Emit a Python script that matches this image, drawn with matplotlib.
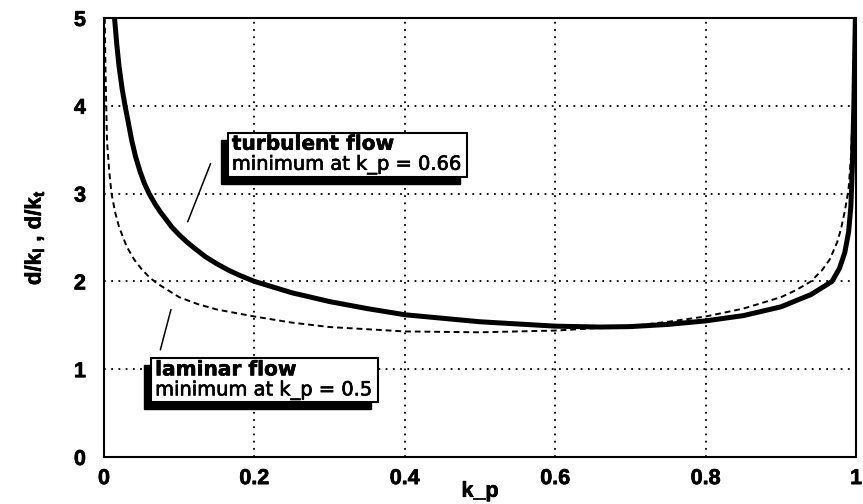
import matplotlib
matplotlib.use("Agg")
import matplotlib.pyplot as plt
import matplotlib.patheffects as pe
from matplotlib.patches import Rectangle


# values
k_turb = [0.014, 0.017, 0.02, 0.024, 0.028, 0.033, 0.037, 0.042, 0.048, 0.054,
          0.06, 0.068, 0.075, 0.083, 0.09, 0.1, 0.11, 0.12, 0.135, 0.15,
          0.165, 0.18, 0.2, 0.25, 0.3, 0.35, 0.4, 0.5, 0.6, 0.66, 0.7, 0.75,
          0.8, 0.85, 0.9, 0.92, 0.94, 0.955, 0.968, 0.978, 0.985, 0.99,
          0.993, 0.995, 0.997, 0.999]
d_turb = [5.0, 4.7, 4.45, 4.2, 4.0, 3.78, 3.6, 3.42, 3.25, 3.11,
          3.0, 2.88, 2.79, 2.7, 2.62, 2.53, 2.45, 2.38, 2.28, 2.2,
          2.13, 2.07, 2.0, 1.87, 1.77, 1.69, 1.62, 1.54, 1.49, 1.48, 1.485, 1.51,
          1.55, 1.61, 1.71, 1.78, 1.85, 1.93, 2.0, 2.15, 2.33, 2.56,
          2.85, 3.3, 4.0, 5.0]

k_lam = [0.001, 0.002, 0.004, 0.007, 0.01, 0.015, 0.02, 0.03, 0.04, 0.05,
         0.06, 0.07, 0.085, 0.1, 0.125, 0.15, 0.2, 0.25, 0.3, 0.4, 0.5, 0.6,
         0.7, 0.75, 0.8, 0.85, 0.9, 0.92, 0.94, 0.955, 0.965, 0.975, 0.98,
         0.985, 0.99, 0.993, 0.996, 0.998, 0.999]
d_lam = [5.0, 4.4, 3.6, 3.25, 3.0, 2.78, 2.62, 2.4, 2.25, 2.14,
         2.05, 1.98, 1.9, 1.82, 1.74, 1.68, 1.6, 1.53, 1.48, 1.43, 1.42, 1.44,
         1.49, 1.54, 1.6, 1.69, 1.82, 1.9, 2.0, 2.13, 2.25, 2.45, 2.6,
         2.8, 3.05, 3.4, 4.0, 4.5, 5.0]

x_ticks = [0, 0.2, 0.4, 0.6, 0.8, 1.0]
x_tick_labels = ["0", "0.2", "0.4", "0.6", "0.8", "1"]
y_ticks = [0, 1, 2, 3, 4, 5]

TURB_TITLE = "turbulent flow"
TURB_NOTE = "minimum at k_p = 0.66"
LAM_TITLE = "laminar flow"
LAM_NOTE = "minimum at k_p = 0.5"

HEAVY = [pe.withStroke(linewidth=0.4, foreground="black")]
MEDIUM = [pe.withStroke(linewidth=0.5, foreground="black")]


def label_box(ax, x, y_top, title, note):
    # two-line boxed label with a black drop shadow to the lower left
    t1 = ax.text(x, y_top, title, fontsize=14.5, fontweight="bold",
                 family="DejaVu Sans", va="top", ha="left", zorder=8,
                 path_effects=HEAVY)
    t2 = ax.text(x, y_top, note, fontsize=14, fontweight="normal",
                 family="DejaVu Sans", va="top", ha="left", zorder=8,
                 path_effects=MEDIUM)
    fig = ax.figure
    fig.canvas.draw()
    r = fig.canvas.get_renderer()
    b1 = t1.get_window_extent(r)
    # stack second line under the first
    inv = ax.transData.inverted()
    x0, _ = ax.transData.transform((x, y_top))
    t2.set_position(inv.transform((x0, b1.y0 - 1)))
    fig.canvas.draw()
    b2 = t2.get_window_extent(r)
    left = min(b1.x0, b2.x0) - 4
    right = max(b1.x1, b2.x1) + 5
    top = b1.y1 + 2
    bottom = b2.y0 - 2
    (dl, db) = inv.transform((left, bottom))
    (dr, dt) = inv.transform((right, top))
    (sl, sb) = inv.transform((left - 7, bottom - 7))
    (sr, st) = inv.transform((right - 7, top - 7))
    ax.add_patch(Rectangle((sl, sb), sr - sl, st - sb, facecolor="black",
                           edgecolor="black", zorder=6))
    ax.add_patch(Rectangle((dl, db), dr - dl, dt - db, facecolor="white",
                           edgecolor="black", lw=1.5, zorder=7))


def main() -> None:
    plt.rcParams["font.family"] = ["Liberation Sans", "DejaVu Sans"]
    plt.rcParams["font.weight"] = "bold"
    plt.rcParams["mathtext.fontset"] = "custom"
    plt.rcParams["mathtext.rm"] = "Liberation Sans:bold"
    plt.rcParams["mathtext.bf"] = "Liberation Sans:bold"
    plt.rcParams["mathtext.it"] = "Liberation Sans:bold"

    fig = plt.figure(figsize=(8.63, 5.04), dpi=100)
    ax = fig.add_axes([0.1205, 0.0933, 0.8715, 0.871])

    ax.plot(k_lam, d_lam, color="black", lw=1.4, ls=(0, (3, 2)), zorder=3)
    ax.plot(k_turb, d_turb, color="black", lw=3.6, zorder=4)

    ax.set_xlim(0, 1)
    ax.set_ylim(0, 5)
    ax.set_xticks(x_ticks)
    ax.set_xticklabels(x_tick_labels)
    ax.set_yticks(y_ticks)
    ax.tick_params(axis="both", length=0, labelsize=15.5)
    ax.tick_params(axis="x", pad=8)
    ax.tick_params(axis="y", pad=13)
    for lab in ax.get_xticklabels() + ax.get_yticklabels():
        lab.set_path_effects(MEDIUM)
    ax.grid(True, color="black", lw=1.3, ls=(0, (1, 3)))
    for s in ax.spines.values():
        s.set_linewidth(1.5)

    ax.set_xlabel("k_p", fontsize=15.5, fontweight="bold", labelpad=-6,
                  path_effects=MEDIUM)
    ax.set_ylabel(r"d/k$_\mathbf{l}$ , d/k$_\mathbf{t}$", fontsize=16,
                  fontweight="bold", labelpad=20, path_effects=MEDIUM)

    # leader lines from the labels to the curves
    ax.annotate("", xy=(0.11, 2.65), xytext=(0.143, 3.37),
                arrowprops=dict(arrowstyle="-", lw=1.1, color="black"))
    ax.annotate("", xy=(0.074, 1.19), xytext=(0.09, 1.71),
                arrowprops=dict(arrowstyle="-", lw=1.1, color="black"))

    label_box(ax, 0.17, 3.67, TURB_TITLE, TURB_NOTE)
    label_box(ax, 0.068, 1.1, LAM_TITLE, LAM_NOTE)

    fig.savefig("out.png", dpi=100)
    plt.close(fig)


if __name__ == "__main__":
    main()
